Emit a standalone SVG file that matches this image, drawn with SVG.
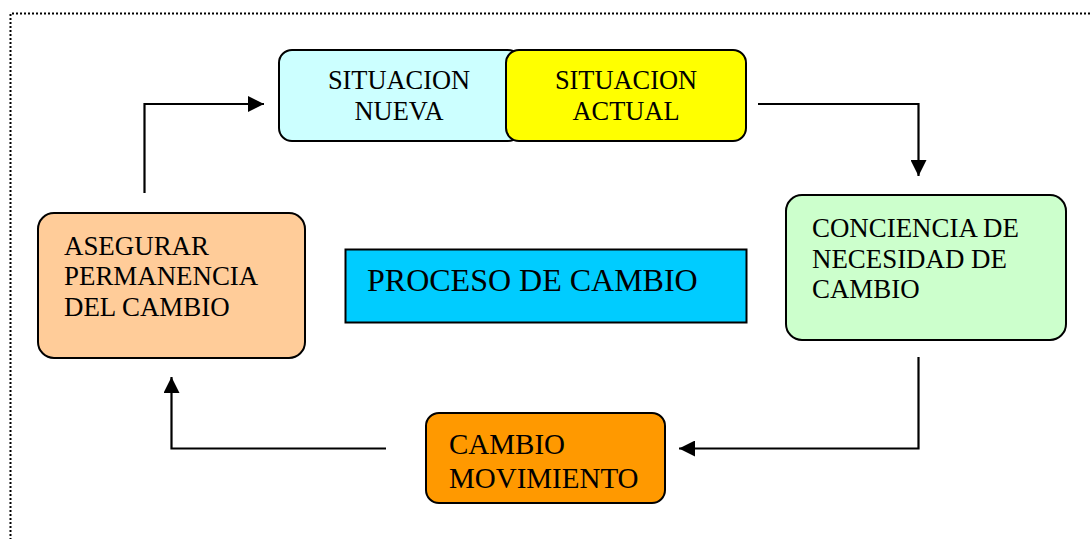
<svg xmlns="http://www.w3.org/2000/svg" width="1092" height="539" viewBox="0 0 1092 539">
<defs>
<marker id="ah" markerWidth="16" markerHeight="16" refX="16" refY="8" orient="auto" markerUnits="userSpaceOnUse">
<path d="M0,0 L16,8 L0,16 Z" fill="#000"/>
</marker>
<style>
.n{stroke:#000;stroke-width:2}
.t{font-family:"Liberation Serif","Times New Roman",serif;font-size:26.4px;fill:#000}
.c{fill:none;stroke:#000;stroke-width:2.2}
</style>
</defs>
<rect width="1092" height="539" fill="#fff"/>
<path d="M10.5,560 V13.5 H1100" fill="none" stroke="#000" stroke-width="2" stroke-dasharray="2,2"/>
<g id="connectors">
<path class="c" d="M144.5,193 V104 H264" marker-end="url(#ah)"/>
<path class="c" d="M758,104 H918.5 V176" marker-end="url(#ah)"/>
<path class="c" d="M918.5,357 V448.5 H679" marker-end="url(#ah)"/>
<path class="c" d="M386,448.5 H171.5 V377" marker-end="url(#ah)"/>
</g>
<g id="situacion-nueva">
<rect class="n" x="279" y="50" width="242" height="91" rx="13" fill="#CCFFFF"/>
<text class="t" x="399" y="89" text-anchor="middle">SITUACION</text>
<text class="t" x="399" y="120" text-anchor="middle">NUEVA</text>
</g>
<g id="situacion-actual">
<rect class="n" x="506" y="50" width="240" height="91" rx="13" fill="#FFFF00"/>
<text class="t" x="626" y="89" text-anchor="middle">SITUACION</text>
<text class="t" x="626" y="120" text-anchor="middle">ACTUAL</text>
</g>
<g id="conciencia">
<rect class="n" x="786" y="195" width="280" height="145" rx="16" fill="#CCFFCC"/>
<text class="t" x="812" y="237" style="font-size:26.9px">CONCIENCIA DE</text>
<text class="t" x="812" y="268" style="font-size:26.9px">NECESIDAD DE</text>
<text class="t" x="812" y="298" style="font-size:26.9px">CAMBIO</text>
</g>
<g id="cambio-movimiento">
<rect class="n" x="426" y="413" width="239" height="90" rx="13" fill="#FF9900"/>
<text class="t" x="449" y="454" style="font-size:29px">CAMBIO</text>
<text class="t" x="449" y="488" style="font-size:29px">MOVIMIENTO</text>
</g>
<g id="asegurar">
<rect class="n" x="38" y="213" width="267" height="145" rx="16" fill="#FFCC99"/>
<text class="t" x="64" y="255" style="font-size:26.9px">ASEGURAR</text>
<text class="t" x="64" y="285" style="font-size:26.9px">PERMANENCIA</text>
<text class="t" x="64" y="316" style="font-size:26.9px">DEL CAMBIO</text>
</g>
<g id="proceso">
<rect class="n" x="345.5" y="249.5" width="401" height="73" fill="#00CCFF"/>
<text class="t" x="367" y="291" style="font-size:32px">PROCESO DE CAMBIO</text>
</g>
</svg>
